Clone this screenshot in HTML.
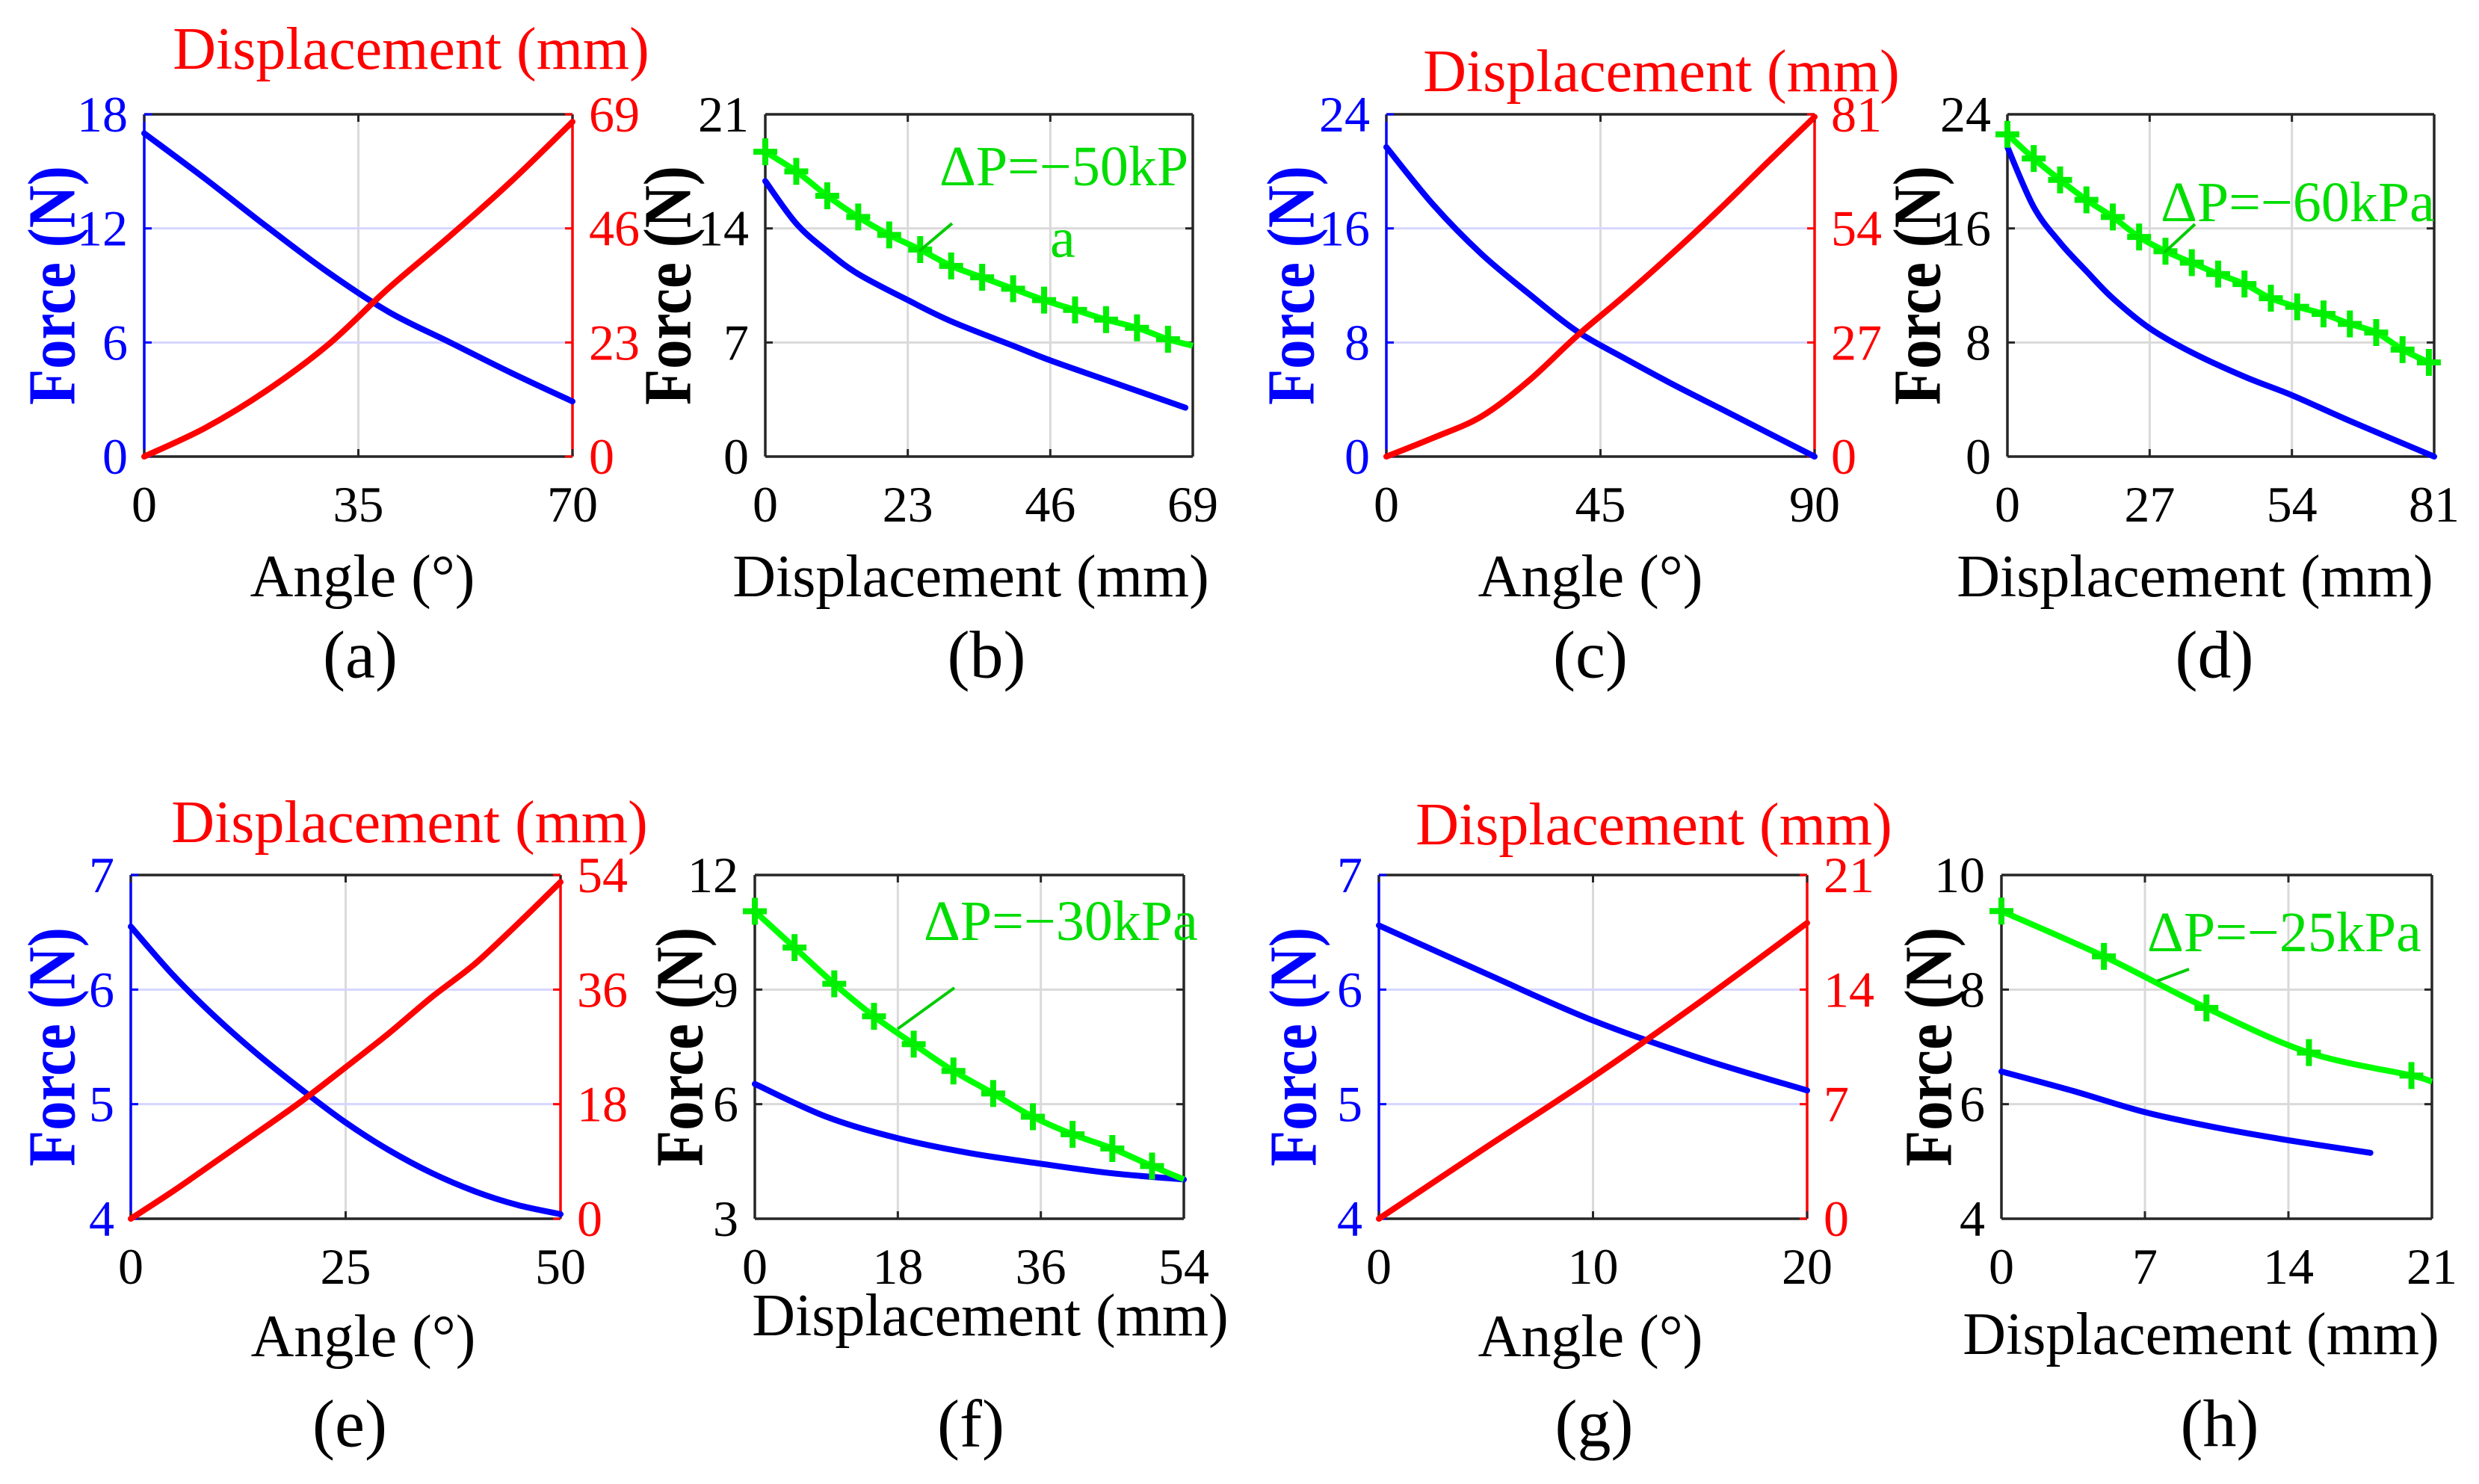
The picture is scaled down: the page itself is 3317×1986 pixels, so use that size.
<!DOCTYPE html>
<html><head><meta charset="utf-8"><style>
html,body{margin:0;padding:0;background:#fff;}
svg{display:block;font-family:"Liberation Serif","Times New Roman",serif;}
</style></head><body>
<svg id="fig" width="3317" height="1986" viewBox="0 0 3317 1986" xmlns="http://www.w3.org/2000/svg"></svg>
<script>
// ---- data ----
const aAngle=[0,10,20,30,40,50,60,70];
const aForce=[17.0,14.6,12.1,9.7,7.6,6.0,4.4,2.9];
const aDisp=[0,5.8,13.3,22.5,34,44.5,55.5,67.5];
const bDispBlue=[0,5,10,15,23,30,40,46,55,67.8];
const bForceBlue=[16.9,14.3,12.6,11.2,9.6,8.3,6.8,5.9,4.7,3.0];
const bDispGreen=[0,5,10,15,20,25,30,35,40,45,50,55,60,65,69];
const bForceGreen=[18.7,17.5,16.0,14.7,13.6,12.7,11.7,11.0,10.3,9.6,9.0,8.4,7.9,7.2,6.8];
const cAngle=[0,10,20,30,40,50,60,70,80,90];
const cForce=[21.7,17.6,14.2,11.4,8.8,6.9,5.1,3.4,1.7,0];
const cDisp=[0,4.5,9.5,18,28.5,38,48,58.5,69.5,80.4];
const dDispBlue=[0,5,10,15,20,27,35,45,54,65,81];
const dForceBlue=[21.7,17.5,15.0,13.0,11.1,9.0,7.3,5.6,4.3,2.5,0];
const dDispGreen=[0,5,10,15,20,25,30,35,40,45,50,55,60,65,70,75,80];
const dForceGreen=[22.6,20.9,19.4,18.0,16.8,15.4,14.4,13.6,12.8,12.1,11.1,10.5,10.0,9.3,8.7,7.5,6.6];
const eAngle=[0,5,10,15,20,25,30,35,40,45,50];
const eForce=[6.55,6.12,5.75,5.42,5.12,4.84,4.6,4.4,4.24,4.12,4.04];
const eDisp=[0,4.4,9.1,13.8,18.6,23.8,29.1,34.8,40,46.3,52.9];
const fDispBlue=[0,9,18,27,36,45,54];
const fForceBlue=[6.53,5.67,5.11,4.72,4.44,4.19,4.03];
const fDispGreen=[0,5,10,15,20,25,30,35,40,45,50,54];
const fForceGreen=[11.05,10.1,9.15,8.3,7.57,6.87,6.28,5.67,5.21,4.84,4.38,4.03];
const gAngle=[0,5,10,15,20];
const gForce=[6.56,6.14,5.73,5.40,5.12];
const gDisp=[0,4.36,8.66,13.25,18.07];
const hDispBlue=[0,3.5,7,10.5,14,18];
const hForceBlue=[6.57,6.23,5.86,5.59,5.37,5.15];
const hDispGreen=[0,5,10,15,20,21];
const hForceGreen=[9.37,8.58,7.68,6.90,6.50,6.39];
const markerCount={b:14,d:17,f:11,h:5};
// tick labels
const aXT=[0,35,70],aYT=[0,6,12,18],aY2T=[0,23,46,69];
const bXT=[0,23,46,69],bYT=[0,7,14,21];
const cXT=[0,45,90],cYT=[0,8,16,24],cY2T=[0,27,54,81];
const dXT=[0,27,54,81],dYT=[0,8,16,24];
const eXT=[0,25,50],eYT=[4,5,6,7],eY2T=[0,18,36,54];
const fXT=[0,18,36,54],fYT=[3,6,9,12];
const gXT=[0,10,20],gYT=[4,5,6,7],gY2T=[0,7,14,21];
const hXT=[0,7,14,21],hYT=[4,6,8,10];

const NS="http://www.w3.org/2000/svg";
const svg=document.getElementById('fig');
function mk(tag,attrs,parent){const e=document.createElementNS(NS,tag);for(const k in attrs)e.setAttribute(k,attrs[k]);(parent||svg).appendChild(e);return e;}
function txt(s,x,y,size,fill,parent,anchor,extra){const t=mk('text',Object.assign({x:x,y:y,'font-size':size,fill:fill,'text-anchor':anchor||'middle','dominant-baseline':'central'},extra||{}),parent);t.textContent=s;return t;}
function smooth(pts){
  if(pts.length<2)return '';
  let d='M'+pts[0][0].toFixed(1)+','+pts[0][1].toFixed(1);
  for(let i=0;i<pts.length-1;i++){
    const p0=pts[Math.max(0,i-1)],p1=pts[i],p2=pts[i+1],p3=pts[Math.min(pts.length-1,i+2)];
    const c1=[p1[0]+(p2[0]-p0[0])/6,p1[1]+(p2[1]-p0[1])/6];
    const c2=[p2[0]-(p3[0]-p1[0])/6,p2[1]-(p3[1]-p1[1])/6];
    d+=' C'+c1[0].toFixed(1)+','+c1[1].toFixed(1)+' '+c2[0].toFixed(1)+','+c2[1].toFixed(1)+' '+p2[0].toFixed(1)+','+p2[1].toFixed(1);
  }
  return d;
}

function panel(p){
  const g=mk('g',{});
  
  
  const xmin=p.xt[0],xmax=p.xt[p.xt.length-1],ymin=p.yt[0],ymax=p.yt[p.yt.length-1];
  const X=v=>p.L+(v-xmin)/(xmax-xmin)*(p.R-p.L);
  const Y=v=>p.B-(v-ymin)/(ymax-ymin)*(p.B-p.T);
  const twin=!!p.y2t;
  let Y2=null;
  if(twin){const y2max=p.y2t[p.y2t.length-1];Y2=v=>p.B-v/y2max*(p.B-p.T);}
  p.xt.forEach((v,i)=>{if(i>0&&i<p.xt.length-1){const l=mk('line',{x1:X(v),x2:X(v),y1:p.T,y2:p.B,stroke:'#dadada','stroke-width':3},g);}});
  p.yt.forEach((v,i)=>{if(i>0&&i<p.yt.length-1){const l=mk('line',{x1:p.L,x2:p.R,y1:Y(v),y2:Y(v),stroke:twin?'#d6d6ff':'#dadada','stroke-width':3},g);}});
  mk('line',{x1:p.L,x2:p.R,y1:p.T,y2:p.T,stroke:'#262626','stroke-width':3.5},g);
  mk('line',{x1:p.L,x2:p.R,y1:p.B,y2:p.B,stroke:'#262626','stroke-width':3.5},g);
  mk('line',{x1:p.L,x2:p.L,y1:p.T,y2:p.B,stroke:twin?'#0000ff':'#262626','stroke-width':3.5},g);
  mk('line',{x1:p.R,x2:p.R,y1:p.T,y2:p.B,stroke:twin?'#ff0000':'#262626','stroke-width':3.5},g);
  p.xt.forEach(v=>{mk('line',{x1:X(v),x2:X(v),y1:p.B,y2:p.B-10,stroke:'#262626','stroke-width':3},g);mk('line',{x1:X(v),x2:X(v),y1:p.T,y2:p.T+10,stroke:'#262626','stroke-width':3},g);
    const t=txt(String(v),X(v),p.B+64,68,'#000',g);});
  const lc=twin?'#0000ff':'#000';
  p.yt.forEach(v=>{mk('line',{x1:p.L,x2:p.L+10,y1:Y(v),y2:Y(v),stroke:twin?'#0000ff':'#262626','stroke-width':3},g);
    if(!twin)mk('line',{x1:p.R,x2:p.R-10,y1:Y(v),y2:Y(v),stroke:'#262626','stroke-width':3},g);
    const t=txt(String(v),p.L-22,Y(v),68,lc,g,'end');});
  if(twin){p.y2t.forEach(v=>{mk('line',{x1:p.R,x2:p.R-10,y1:Y2(v),y2:Y2(v),stroke:'#ff0000','stroke-width':3},g);
    const t=txt(String(v),p.R+22,Y2(v),68,'#ff0000',g,'start');});
    const tt=txt('Displacement (mm)',p.t2x,p.t2y,80,'#ff0000',g);
    
    }
  const xt=txt(p.xlabel,p.xlx,p.xly,80,'#000',g);
  
  
  const yt=txt('Force (N)',0,0,90,lc,g,'middle',{'font-weight':'bold',textLength:320,lengthAdjust:'spacingAndGlyphs',transform:'translate('+p.ylx+','+((p.T+p.B)/2)+') rotate(-90)'});
  
  
  const cap=txt('('+p.id+')',p.capx,p.capy,90,'#000',g);
  
  
  const blue=mk('path',{d:smooth(p.bx.map((v,i)=>[X(v),Y(p.by[i])])),fill:'none',stroke:'#0000ff','stroke-width':8,'stroke-linecap':'round'},g);
  
  
  if(twin){const red=mk('path',{d:smooth(p.bx.map((v,i)=>[X(v),Y2(p.ry[i])])),fill:'none',stroke:'#ff0000','stroke-width':8,'stroke-linecap':'round'},g);
    
    }
  if(p.gx){
    const gr=mk('path',{d:smooth(p.gx.map((v,i)=>[X(v),Y(p.gy[i])])),fill:'none',stroke:'#00ff00','stroke-width':8},g);
    
    
    for(let i=0;i<p.nm;i++){const cx=X(p.gx[i]),cy=Y(p.gy[i]);
      const m=mk('path',{d:'M'+(cx-16)+','+cy+'H'+(cx+16)+'M'+cx+','+(cy-18)+'V'+(cy+18),stroke:'#00ee00','stroke-width':8,fill:'none'},g);
      
      }
    const at=txt(p.ann,p.annx,p.anny,76,'#00dd00',g,'start');
    
    
    if(p.ann2){const a2=txt(p.ann2[0],p.ann2[1],p.ann2[2],76,'#00dd00',g,'start');}
    const al=mk('line',{x1:p.arr[0],y1:p.arr[1],x2:p.arr[2],y2:p.arr[3],stroke:'#00cc00','stroke-width':4},g);
    
    
  }
}
const topRow={T:153,B:611},botRow={T:1171,B:1631};
panel(Object.assign({id:'a',L:193,R:766,xt:aXT,yt:aYT,y2t:aY2T,bx:aAngle,by:aForce,ry:aDisp,xlabel:'Angle (°)',xlx:485,xly:772,ylx:70,capx:482,capy:877,t2x:550,t2y:66},topRow));
panel(Object.assign({id:'b',L:1024,R:1596,xt:bXT,yt:bYT,bx:bDispBlue,by:bForceBlue,gx:bDispGreen,gy:bForceGreen,nm:markerCount.b,xlabel:'Displacement (mm)',xlx:1299,xly:772,ylx:894,capx:1320,capy:877,ann:'ΔP=−50kP',annx:1257,anny:223,ann2:['a',1405,319],arr:[1274,299,1230,336]},topRow));
panel(Object.assign({id:'c',L:1855,R:2428,xt:cXT,yt:cYT,y2t:cY2T,bx:cAngle,by:cForce,ry:cDisp,xlabel:'Angle (°)',xlx:2128,xly:772,ylx:1728,capx:2128,capy:877,t2x:2223,t2y:96},topRow));
panel(Object.assign({id:'d',L:2686,R:3257,xt:dXT,yt:dYT,bx:dDispBlue,by:dForceBlue,gx:dDispGreen,gy:dForceGreen,nm:markerCount.d,xlabel:'Displacement (mm)',xlx:2937,xly:772,ylx:2566,capx:2963,capy:877,ann:'ΔP=−60kPa',annx:2891,anny:271,arr:[2937,300,2896,338]},topRow));
panel(Object.assign({id:'e',L:175,R:750,xt:eXT,yt:eYT,y2t:eY2T,bx:eAngle,by:eForce,ry:eDisp,xlabel:'Angle (°)',xlx:486,xly:1789,ylx:70,capx:468,capy:1906,t2x:548,t2y:1101},botRow));
panel(Object.assign({id:'f',L:1010,R:1584,xt:fXT,yt:fYT,bx:fDispBlue,by:fForceBlue,gx:fDispGreen,gy:fForceGreen,nm:markerCount.f,xlabel:'Displacement (mm)',xlx:1325,xly:1761,ylx:910,capx:1299,capy:1906,ann:'ΔP=−30kPa',annx:1236,anny:1233,arr:[1277,1322,1201,1377]},botRow));
panel(Object.assign({id:'g',L:1845,R:2418,xt:gXT,yt:gYT,y2t:gY2T,bx:gAngle,by:gForce,ry:gDisp,xlabel:'Angle (°)',xlx:2128,xly:1789,ylx:1731,capx:2133,capy:1906,t2x:2213,t2y:1104},botRow));
panel(Object.assign({id:'h',L:2678,R:3254,xt:hXT,yt:hYT,bx:hDispBlue,by:hForceBlue,gx:hDispGreen,gy:hForceGreen,nm:markerCount.h,xlabel:'Displacement (mm)',xlx:2945,xly:1786,ylx:2581,capx:2970,capy:1906,ann:'ΔP=−25kPa',annx:2873,anny:1248,arr:[2929,1297,2886,1313]},botRow));
</script>
</body></html>
